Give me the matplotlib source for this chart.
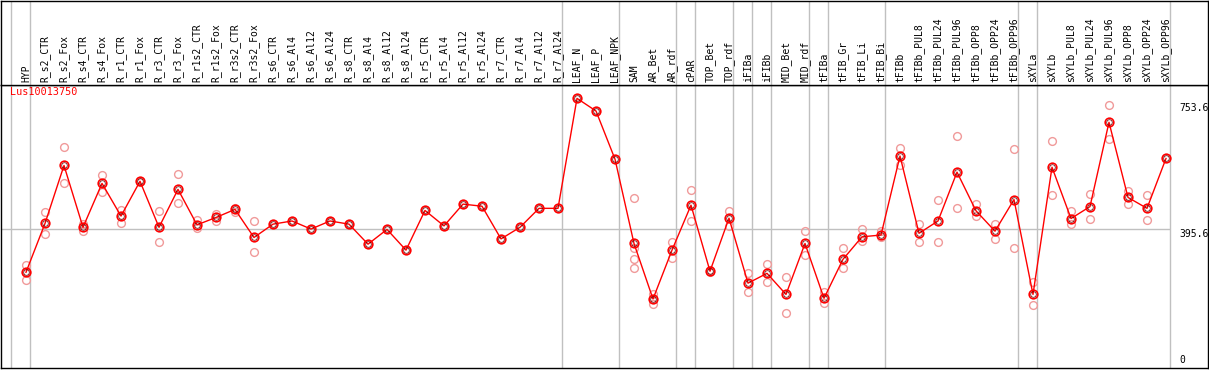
import matplotlib
matplotlib.use("Agg")
import matplotlib.pyplot as plt
import matplotlib.transforms as mtransforms

# sample labels, left to right
samples = ["HYP",
           "R_s2_CTR", "R_s2_Fox", "R_s4_CTR", "R_s4_Fox", "R_r1_CTR", "R_r1_Fox",
           "R_r3_CTR", "R_r3_Fox", "R_r1s2_CTR", "R_r1s2_Fox", "R_r3s2_CTR", "R_r3s2_Fox",
           "R_s6_CTR", "R_s6_Al4", "R_s6_Al12", "R_s6_Al24",
           "R_s8_CTR", "R_s8_Al4", "R_s8_Al12", "R_s8_Al24",
           "R_r5_CTR", "R_r5_Al4", "R_r5_Al12", "R_r5_Al24",
           "R_r7_CTR", "R_r7_Al4", "R_r7_Al12", "R_r7_Al24",
           "LEAF_N", "LEAF_P", "LEAF_NPK",
           "SAM", "AR_Bet", "AR_rdf", "cPAR", "TOP_Bet", "TOP_rdf",
           "iFIBa", "iFIBb", "MID_Bet", "MID_rdf",
           "tFIBa", "tFIB_Gr", "tFIB_Li", "tFIB_Bi",
           "tFIBb", "tFIBb_PUL8", "tFIBb_PUL24", "tFIBb_PUL96",
           "tFIBb_OPP8", "tFIBb_OPP24", "tFIBb_OPP96",
           "sXYLa", "sXYLb", "sXYLb_PUL8", "sXYLb_PUL24", "sXYLb_PUL96",
           "sXYLb_OPP8", "sXYLb_OPP24", "sXYLb_OPP96"]

# mean expression per sample
means = [271, 410, 575, 399, 524, 431, 530, 399, 507, 406, 427, 450, 370,
         408, 417, 394, 417, 408, 351, 393, 334, 447, 403, 465, 459,
         366, 399, 453, 453, 766, 730, 593,
         353, 195, 334, 462, 274, 425, 240, 268, 208, 353,
         197, 308, 372, 377, 602, 382, 417, 556, 446, 388, 478,
         208, 570, 424, 458, 698, 484, 453, 595]

# individual replicates
reps = [[292, 272, 249], [442, 380], [627, 524], [408, 388], [547, 500],
        [448, 410], [532, 528], [444, 357], [550, 467], [421, 396],
        [438, 418], [453, 442], [417, 328],
        [408], [417], [394], [417], [408], [351], [393], [334],
        [447], [403], [465], [459], [366], [399], [453], [453],
        [766], [730], [593],
        [481, 339, 309, 283], [208, 196, 180], [357, 311], [504, 417], [271, 277], [445, 404],
        [268, 214], [294, 242], [257, 156], [388, 319],
        [216, 183], [339, 282], [394, 360], [388, 370],
        [625, 575], [408, 356], [476, 357], [659, 453],
        [465, 431], [407, 367], [621, 339],
        [242, 177], [646, 491], [445, 407], [494, 423], [746, 649],
        [502, 464], [490, 419], [595]]

# grey separators sit just after these sample indices
groups_end = [-1, 0, 28, 31, 34, 35, 37, 38, 39, 41, 42, 45, 52, 53, 60]

gene = "Lus10013750"
ref_lines = [753.6, 395.6, 0]
ref_text = ["753.6", "395.6", "0"]

W, H = 1209, 370
mono = "DejaVu Sans Mono"
fig = plt.figure(figsize=(W / 100, H / 100), dpi=100)
ax = fig.add_axes([1 / W, 2 / H, 1207 / W, 283 / H])
hdr = fig.add_axes([1 / W, 285 / H, 1207 / W, 84.5 / H])

x = list(range(len(samples)))
xlim = ((1 - 26) / 19, (1208 - 26) / 19)
for a in (ax, hdr):
    a.set_xlim(*xlim)
    a.set_xticks([])
    a.set_yticks([])
    for s in a.spines.values():
        s.set_linewidth(1.0)
        s.set_color("black")
    for g in groups_end:
        a.axvline(g + 0.23, color="#c0c0c0", lw=1.0, zorder=0)

ax.set_ylim(-1.4, 804)
ax.hlines(395.6, xlim[0], 60.23, color="#c0c0c0", lw=1.0, zorder=0)

# replicates
for i, r in enumerate(reps):
    ax.plot([i] * len(r), r, "o", ms=5.6, mfc="none", mec="#f09a9a", mew=1.0, zorder=2)

ax.plot(x, means, "-", color="red", lw=1.0, zorder=3)
ax.plot(x, means, "o", ms=6.2, mfc="none", mec="red", mew=1.2, zorder=4)
ax.plot(x, means, "o", ms=4.0, mfc="none", mec="#600000", mew=0.5, zorder=5)

# value labels at the right
lab_x = (1179 - 26) / 19
for v, t in zip(ref_lines, ref_text):
    if v == 0:
        ax.text(lab_x, 6, t, fontsize=7.0, family=mono, va="bottom", ha="left")
    else:
        ax.text(lab_x, v, t, fontsize=7.0, family=mono, va="top", ha="left")

ax.text(-0.85, 785, gene, color="red", fontsize=7.3, family=mono, va="center", ha="left")

trans = mtransforms.blended_transform_factory(hdr.transData, hdr.transAxes)
for i, s in enumerate(samples):
    hdr.text(i, 0.03, s, rotation=90, transform=trans, fontsize=7.0, family=mono,
             ha="center", va="bottom")

fig.savefig("out.png", dpi=100)
